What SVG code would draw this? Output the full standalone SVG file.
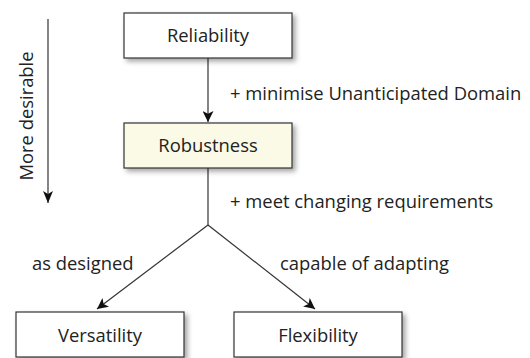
<svg xmlns="http://www.w3.org/2000/svg" width="530" height="358" viewBox="0 0 530 358">
<style>
.box{fill:#ffffff;stroke:#333333;stroke-width:1.2}
.hl{fill:#fafae6}
.lbl{font-family:"Open Sans","Liberation Sans",sans-serif;font-size:18.4px;fill:#222222}
.c{text-anchor:middle}
.ln{stroke:#333333;stroke-width:1.2;fill:none}
</style>
<defs>
<filter id="sh" x="-10%" y="-20%" width="130%" height="160%">
<feDropShadow dx="3" dy="3" stdDeviation="2.5" flood-color="#000" flood-opacity="0.35"/>
</filter>
<marker id="ah" viewBox="0 0 10 10" refX="10" refY="5" markerWidth="11" markerHeight="11" markerUnits="userSpaceOnUse" orient="auto">
<path d="M0,0 L10,5 L0,10 L2.5,5 z" fill="#111"/>
</marker>
<marker id="ah2" viewBox="0 0 12 10" refX="12" refY="5" markerWidth="12" markerHeight="10" markerUnits="userSpaceOnUse" orient="auto">
<path d="M0,0 L12,5 L0,10 L3,5 z" fill="#111"/>
</marker>
</defs>
<g id="connectors">
<line class="ln" x1="208" y1="58" x2="208" y2="122" marker-end="url(#ah)"/>
<polyline class="ln" points="208,168 208,225"/>
<line class="ln" x1="208" y1="225" x2="97" y2="309" marker-end="url(#ah)"/>
<line class="ln" x1="208" y1="225" x2="315" y2="309" marker-end="url(#ah)"/>
<text class="lbl" x="230" y="100">+ minimise Unanticipated Domain</text>
<text class="lbl" x="230" y="208">+ meet changing requirements</text>
<text class="lbl" x="32" y="270">as designed</text>
<text class="lbl" x="280" y="270">capable of adapting</text>
</g>
<g id="more-desirable">
<line class="ln" x1="48" y1="19" x2="48" y2="203" marker-end="url(#ah2)"/>
<text class="lbl c" transform="translate(33,116) rotate(-90)">More desirable</text>
</g>
<g id="reliability">
<rect class="box" x="124" y="13" width="168" height="45" filter="url(#sh)"/>
<text class="lbl c" x="208" y="42">Reliability</text>
</g>
<g id="robustness">
<rect class="box hl" x="124" y="123" width="168" height="45" filter="url(#sh)"/>
<text class="lbl c" x="208" y="152">Robustness</text>
</g>
<g id="versatility">
<rect class="box" x="16" y="312" width="168" height="45" filter="url(#sh)"/>
<text class="lbl c" x="100" y="342">Versatility</text>
</g>
<g id="flexibility">
<rect class="box" x="234" y="312" width="168" height="45" filter="url(#sh)"/>
<text class="lbl c" x="318" y="342">Flexibility</text>
</g>
</svg>
